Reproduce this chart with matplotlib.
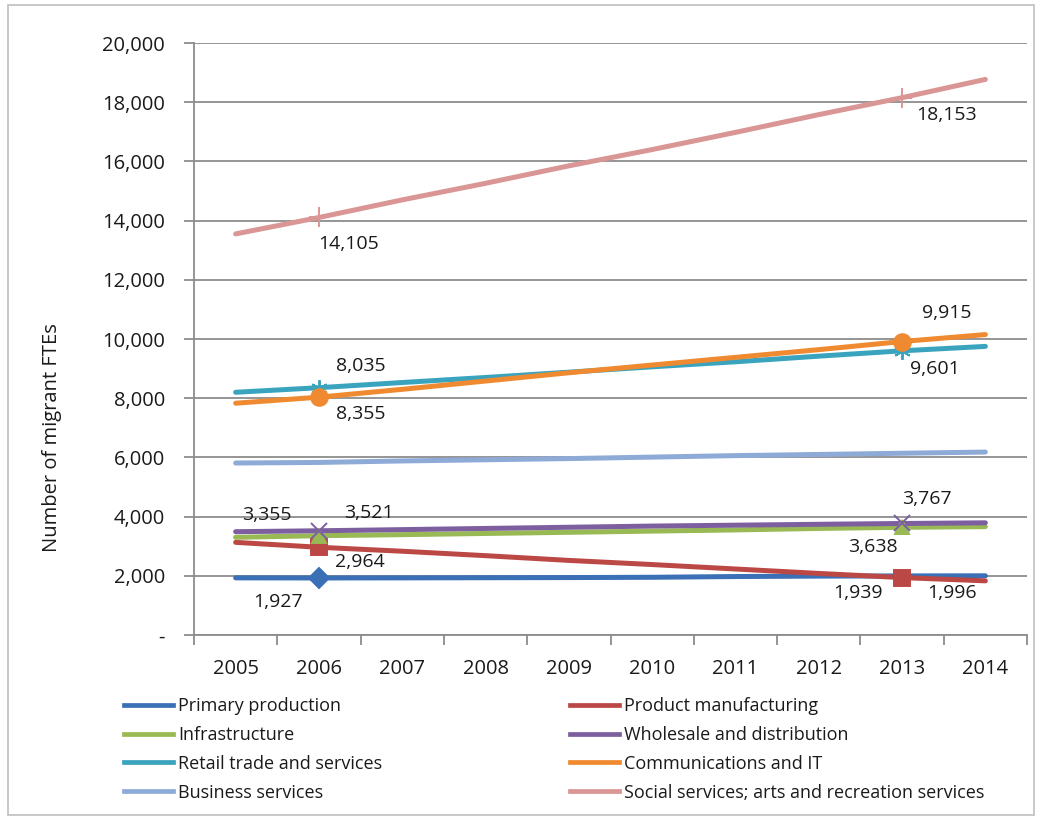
import matplotlib
matplotlib.use("Agg")
import matplotlib.pyplot as plt
from matplotlib.lines import Line2D
from matplotlib.patches import Rectangle
from matplotlib.ticker import FixedLocator, FuncFormatter

plt.rcParams["font.family"] = ["Open Sans", "DejaVu Sans"]

years = [2005, 2006, 2007, 2008, 2009, 2010, 2011, 2012, 2013, 2014]

primary = [1930, 1927, 1930, 1935, 1940, 1950, 1975, 1990, 1996, 2000]
manufacturing = [3130, 2964, 2830, 2680, 2520, 2380, 2230, 2080, 1939, 1830]
infrastructure = [3300, 3355, 3390, 3430, 3470, 3510, 3550, 3600, 3638, 3660]
wholesale = [3490, 3521, 3560, 3600, 3640, 3680, 3710, 3740, 3767, 3790]
retail = [8200, 8355, 8530, 8700, 8880, 9060, 9230, 9420, 9601, 9750]
communications = [7830, 8035, 8300, 8580, 8860, 9120, 9380, 9640, 9915, 10150]
business = [5810, 5830, 5880, 5920, 5960, 6010, 6060, 6100, 6140, 6180]
social = [13550, 14105, 14700, 15260, 15850, 16400, 16980, 17580, 18153, 18770]

y_ticks = [0, 2000, 4000, 6000, 8000, 10000, 12000, 14000, 16000, 18000, 20000]

# (name, values, colour, marker, marker size, marked points, legend column)
SERIES = [
    ("Primary production", primary, "#3B6FB6", "D", 10, [1], 0),
    ("Product manufacturing", manufacturing, "#BC4845", "s", 11, [1, 8], 1),
    ("Infrastructure", infrastructure, "#98B954", "^", 10, [1, 8], 0),
    ("Wholesale and distribution", wholesale, "#7D5FA0", "x", 12, [1, 8], 1),
    ("Retail trade and services", retail, "#3AA4BF", (6, 2, 0), 12, [1, 8], 0),
    ("Communications and IT", communications, "#F08A30", "o", 12, [1, 8], 1),
    ("Business services", business, "#8EABD8", None, 0, [], 0),
    ("Social services; arts and recreation services", social, "#D99694",
     "+", 14, [1, 8], 1),
]

# data labels: (series values, point index, text, offset in pixels)
LABELS = [
    (social, 1, "14,105", (30, -27)),
    (social, 8, "18,153", (44, -17)),
    (communications, 8, "9,915", (45, 29)),
    (retail, 8, "9,601", (33, -18)),
    (retail, 1, "8,035", (42, 22)),
    (communications, 1, "8,355", (42, -17)),
    (infrastructure, 1, "3,355", (-52, 21)),
    (wholesale, 1, "3,521", (50, 18)),
    (manufacturing, 1, "2,964", (41, -15)),
    (primary, 1, "1,927", (-41, -24)),
    (wholesale, 8, "3,767", (25, 24)),
    (infrastructure, 8, "3,638", (-29, -20)),
    (manufacturing, 8, "1,939", (-44, -15)),
    (primary, 8, "1,996", (50, -17)),
]

GRID = "#8C8C8C"
TXT = "#1a1a1a"
W, H = 1039, 818

fig = plt.figure(figsize=(W / 100, H / 100), dpi=100)
fig.patch.set_facecolor("white")
fig.patches.append(Rectangle((8 / W, 3 / H), 1026 / W, 810 / H,
                             transform=fig.transFigure, fill=False,
                             edgecolor="#BFBFBF", lw=1.2))

ax = fig.add_axes([194 / W, (H - 635) / H, 833 / W, 592 / H])

for name, vals, col, mk, ms, marked, _ in SERIES:
    ax.plot(years, vals, color=col, lw=3.6, solid_capstyle="round",
            zorder=3)
    if marked:
        ax.plot([years[i] for i in marked], [vals[i] for i in marked],
                ls="none", marker=mk, ms=ms, color=col, mec=col,
                mew=1.4, zorder=4)

for vals, i, txt, off in LABELS:
    ax.annotate(txt, (years[i], vals[i]), xytext=off,
                textcoords="offset pixels", ha="center", va="center",
                fontsize=14, color=TXT, zorder=5)

ax.set_xlim(2004.5, 2014.5)
ax.set_ylim(0, 20000)
ax.yaxis.set_major_locator(FixedLocator(y_ticks))
ax.yaxis.set_major_formatter(
    FuncFormatter(lambda v, p: "-" if v == 0 else f"{int(v):,}"))
ax.xaxis.set_major_locator(FixedLocator([y - 0.5 for y in years] + [2014.5]))
ax.xaxis.set_major_formatter(FuncFormatter(lambda v, p: ""))
ax.xaxis.set_minor_locator(FixedLocator(years))
ax.xaxis.set_minor_formatter(FuncFormatter(lambda v, p: str(int(round(v)))))
ax.tick_params(axis="x", which="major", length=7, width=1.3, color=GRID,
               direction="out")
ax.tick_params(axis="x", which="minor", length=0, pad=17, labelsize=14.5,
               labelcolor=TXT)
ax.tick_params(axis="y", length=7, width=1.3, color=GRID, pad=14,
               labelsize=14.5, labelcolor=TXT)

ax.grid(axis="y", color=GRID, lw=1.3, zorder=0)
ax.set_axisbelow(True)
for s in ("top", "right"):
    ax.spines[s].set_visible(False)
for s in ("left", "bottom"):
    ax.spines[s].set_color(GRID)
    ax.spines[s].set_linewidth(1.3)

fig.text(52 / W, 1 - 438 / H, "Number of migrant FTEs", rotation=90,
         ha="center", va="center", fontsize=14.5, color=TXT)

for col_idx, x0 in ((0, 124), (1, 570)):
    handles = [Line2D([], [], color=s[2], lw=3.4) for s in SERIES
               if s[6] == col_idx]
    names = [s[0] for s in SERIES if s[6] == col_idx]
    fig.legend(handles, names, loc="upper left",
               bbox_to_anchor=(x0 / W, 1 - 697 / H), frameon=False,
               borderaxespad=0, borderpad=0, handlelength=2.7,
               handletextpad=0.3, labelspacing=0.6, fontsize=13,
               labelcolor=TXT)

fig.savefig("out.png", dpi=100, facecolor="white")
